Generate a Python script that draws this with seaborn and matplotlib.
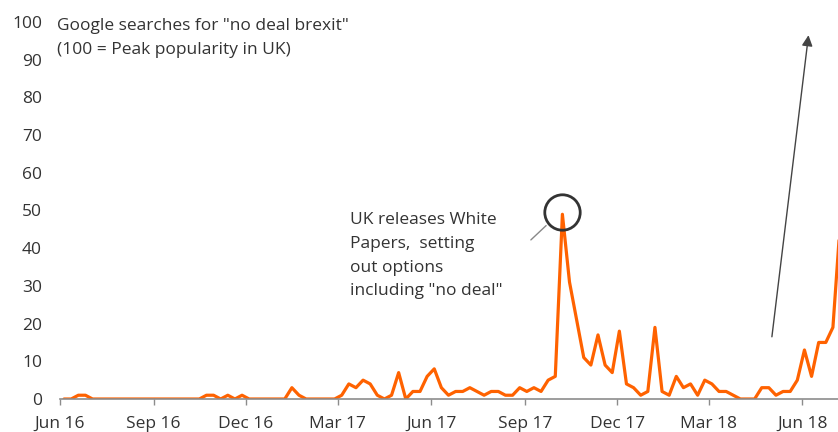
import numpy as np
import pandas as pd
import matplotlib
matplotlib.use("Agg")
import matplotlib.pyplot as plt
import matplotlib.dates as mdates
import seaborn as sns

# ---- data (weekly Google Trends index, weeks starting 2016-06-05) ----
start_week = "2016-06-05"
searches = [0, 0, 1, 1, 0, 0, 0, 0, 0, 0, 0, 0, 0, 0, 0, 0, 0, 0, 0, 0,
            1, 1, 0, 1, 0, 1, 0, 0, 0, 0, 0, 0, 3, 1, 0, 0, 0, 0, 0, 1,
            4, 3, 5, 4, 1, 0, 1, 7, 0, 2, 2, 6, 8, 3, 1, 2, 2, 3, 2, 1,
            2, 2, 1, 1, 3, 2, 3, 2, 5, 6, 49, 31, 21, 11, 9, 17, 9, 7, 18, 4,
            3, 1, 2, 19, 2, 1, 6, 3, 4, 1, 5, 4, 2, 2, 1, 0, 0, 0, 3, 3,
            1, 2, 2, 5, 13, 6, 15, 15, 19, 46]
tick_dates = ["2016-06-01", "2016-09-01", "2016-12-01", "2017-03-01", "2017-06-01",
              "2017-09-01", "2017-12-01", "2018-03-01", "2018-06-01"]
ytick_values = [0, 10, 20, 30, 40, 50, 60, 70, 80, 90, 100]
title_text = 'Google searches for "no deal brexit"\n(100 = Peak popularity in UK)'
note_text = 'UK releases White\nPapers,  setting\nout options\nincluding "no deal"'

weeks = pd.date_range(start_week, periods=len(searches), freq="7D")
df = pd.DataFrame({"week": weeks, "searches": searches})

sns.set_theme(style="white")
plt.rcParams["font.family"] = ["Open Sans", "DejaVu Sans"]
TXT = "#333333"
ORANGE = "#FF6200"
FS = 12.5

fig = plt.figure(figsize=(8.38, 4.32), dpi=100)
ax = fig.add_axes([60 / 838, 33 / 432, 778 / 838, 377 / 432])

sns.lineplot(data=df, x="week", y="searches", ax=ax, color=ORANGE, linewidth=2.3)

ax.set_xlim(pd.Timestamp("2016-06-01"), pd.Timestamp("2018-07-06"))
ax.set_ylim(0, 100)
ax.set_xlabel("")
ax.set_ylabel("")

for s in ["top", "right", "left"]:
    ax.spines[s].set_visible(False)
ax.spines["bottom"].set_color("#8c8c8c")
ax.spines["bottom"].set_linewidth(1.2)

ax.set_xticks(pd.to_datetime(tick_dates))
ax.xaxis.set_major_formatter(mdates.DateFormatter("%b %y"))
ax.tick_params(axis="x", direction="out", length=4, width=1, color="#8c8c8c",
               labelsize=FS, labelcolor=TXT, pad=8, bottom=True)
ax.set_yticks(ytick_values)
ax.tick_params(axis="y", length=0, labelsize=FS, labelcolor=TXT, pad=13)
ax.grid(False)
for lab in ax.get_xticklabels() + ax.get_yticklabels():
    lab.set_clip_on(False)

# title text
fig.text(57 / 838, 1 - 18 / 432, title_text, ha="left", va="top",
         fontsize=FS, color=TXT, linespacing=1.65)

# annotation for the peak
peak_i = int(np.argmax(searches))
peak_date = weeks[peak_i]
ax.plot([peak_date], [searches[peak_i] + 0.7], marker="o", ms=25.5, mfc="none",
        mec="#333333", mew=2.0, clip_on=False)
ax.plot([pd.Timestamp("2017-09-07"), pd.Timestamp("2017-09-22")], [42.2, 46.0],
        color="#888888", lw=1)
ax.text((350 - 60) / 778, (399 - 212) / 377, note_text, transform=ax.transAxes,
        ha="left", va="top", fontsize=FS, color=TXT, linespacing=1.65)

# arrow
ax.annotate("", xy=(pd.Timestamp("2018-06-07"), 96.5),
            xytext=(pd.Timestamp("2018-05-02"), 16.5),
            arrowprops=dict(arrowstyle="-|>", color="#444444", lw=1,
                            mutation_scale=16, shrinkA=0, shrinkB=0),
            annotation_clip=False)

fig.savefig("out.png", dpi=100)
